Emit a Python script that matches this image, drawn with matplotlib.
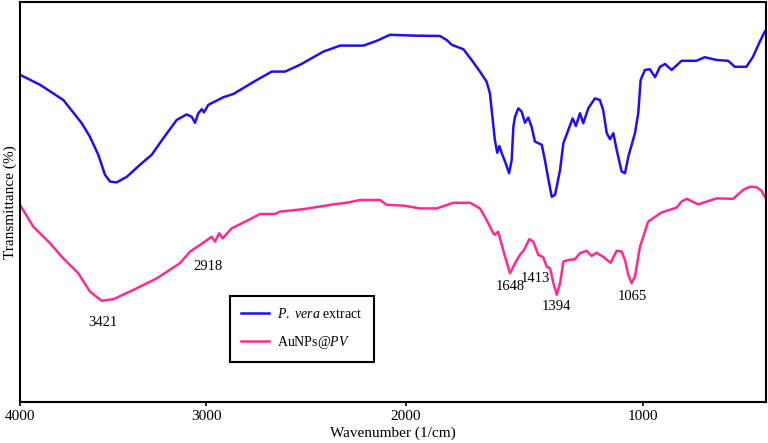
import matplotlib
matplotlib.use('Agg')
import matplotlib.pyplot as plt
import numpy as np

# FTIR spectra, wavenumber (1/cm) vs transmittance (arbitrary offset, %)
wn_extract = [4000, 3892, 3767, 3668, 3624, 3579, 3543, 3516, 3480, 3426, 3355, 3292,
              3230, 3158, 3104, 3077, 3059, 3041, 3023, 3011, 2988, 2913, 2863, 2746,
              2671, 2605, 2530, 2413, 2330, 2213, 2146, 2080, 1969, 1857, 1828, 1807,
              1758, 1723, 1688, 1660, 1646, 1634, 1625, 1615, 1606, 1596, 1582, 1565,
              1554, 1547, 1540, 1526, 1512, 1498, 1484, 1470, 1456, 1427, 1414, 1400,
              1385, 1371, 1350, 1336, 1315, 1297, 1283, 1266, 1252, 1231, 1203, 1182,
              1168, 1153, 1139, 1125, 1111, 1090, 1076, 1062, 1034, 1020, 1010, 992,
              971, 949, 928, 907, 879, 837, 774, 739, 689, 640, 612, 563, 535, 506, 485]
tr_extract = [81.8, 79.3, 75.5, 69.7, 66.3, 61.8, 56.8, 55.1, 54.9, 56.3, 59.3, 61.8,
              65.9, 70.5, 71.9, 71.3, 69.8, 72.2, 73.2, 72.4, 74.3, 76.2, 77.0, 80.5,
              82.6, 82.6, 84.3, 87.6, 89.1, 89.1, 90.3, 91.8, 91.6, 91.5, 90.5, 89.3,
              88.2, 85.5, 82.6, 80.1, 77.2, 70.5, 65.5, 62.3, 64.0, 62.2, 60.1, 57.2,
              60.5, 68.8, 71.3, 73.4, 72.6, 69.8, 71.1, 68.8, 65.1, 64.3, 60.5, 55.9,
              51.3, 51.8, 58.0, 64.7, 68.0, 70.9, 69.0, 72.2, 69.7, 73.4, 75.9, 75.5,
              73.0, 67.2, 65.7, 67.2, 63.0, 57.6, 57.2, 61.3, 67.2, 72.2, 80.5, 83.0,
              83.2, 81.2, 83.8, 84.5, 83.0, 85.3, 85.3, 86.2, 85.5, 85.3, 83.8, 83.8, 86.3, 90.1, 92.6]

wn_aunps = [4000, 3928, 3839, 3767, 3687, 3624, 3561, 3498, 3391, 3265, 3140, 3086,
            3015, 2972, 2955, 2934, 2917, 2872, 2780, 2730, 2655, 2630, 2514, 2364,
            2297, 2230, 2130, 2097, 2014, 1941, 1870, 1800, 1730, 1688, 1660, 1632,
            1625, 1611, 1582, 1561, 1540, 1519, 1502, 1480, 1463, 1442, 1421, 1406,
            1392, 1378, 1364, 1350, 1336, 1315, 1287, 1266, 1238, 1217, 1196, 1168,
            1137, 1111, 1090, 1076, 1062, 1048, 1034, 1013, 978, 921, 858, 837, 815,
            767, 689, 619, 577, 549, 520, 499, 485]
tr_aunps = [49.3, 43.8, 39.7, 35.9, 32.2, 27.6, 25.3, 25.7, 28.0, 30.9, 34.7, 37.6,
            39.8, 41.3, 40.1, 42.2, 40.9, 43.4, 45.7, 47.0, 47.0, 47.6, 48.2, 49.4,
            49.8, 50.5, 50.5, 49.3, 49.1, 48.4, 48.4, 49.8, 49.8, 48.4, 45.5, 42.2,
            41.8, 42.6, 36.3, 32.2, 34.7, 36.8, 38.0, 40.7, 40.1, 36.8, 36.2, 33.8,
            33.4, 29.7, 26.8, 29.7, 35.1, 35.5, 35.7, 37.2, 37.8, 36.5, 37.3, 36.3,
            34.8, 37.8, 37.6, 35.5, 31.8, 29.7, 31.3, 38.8, 45.1, 47.4, 48.6, 50.1, 50.8,
            49.4, 50.9, 50.8, 53.0, 53.8, 53.7, 52.8, 51.3]

peak_labels = ['3421', '2918', '1648', '1413', '1394', '1065']
peak_wn = [3554, 2990, 1561, 1452, 1364, 1047]
peak_tr = [20.0, 33.8, 28.8, 30.8, 23.8, 26.4]

# the original x axis is not linear: stretched below 2000 1/cm
scale_wn = [480, 1000, 2000, 3000, 4000]
scale_pos = [0, 123, 360, 560, 746]

def fwd(w):
    return np.interp(w, scale_wn, scale_pos)

def inv(u):
    return np.interp(u, scale_pos, scale_wn)

plt.rcParams['font.family'] = 'Liberation Serif'
plt.rcParams['mathtext.fontset'] = 'custom'
plt.rcParams['mathtext.rm'] = 'Liberation Serif'
plt.rcParams['mathtext.it'] = 'Liberation Serif:italic'

fig = plt.figure(figsize=(7.68, 4.43), dpi=100)
ax = fig.add_axes([20 / 768, 41 / 443, 746 / 768, 400 / 443])

ax.plot(wn_extract, tr_extract, color='#1f10f0', lw=1.8, label=r'$\mathit{P.\ vera}$ extract')
ax.plot(wn_aunps, tr_aunps, color='#ff2a90', lw=1.8, label=r'AuNPs@$\mathit{PV}$')

for lab, w, t in zip(peak_labels, peak_wn, peak_tr):
    ax.text(w, t, lab, ha='center', va='center', fontsize=10.5)

ax.set_xscale('function', functions=(fwd, inv))
ax.set_xlim(4000, 480)
ax.set_ylim(0, 100)
ax.set_xticks([4000, 3000, 2000, 1000])
ax.set_xticklabels(['4000', '3000', '2000', '1000'])
ax.minorticks_off()
ax.set_yticks([])
ax.tick_params(axis='x', direction='out', length=3, width=1.2, labelsize=11, pad=3)
for s in ax.spines.values():
    s.set_linewidth(1.5)

ax.set_xlabel('Wavenumber (1/cm)', fontsize=11, labelpad=2)
ax.set_ylabel('Transmittance (%)', fontsize=11, labelpad=2)

leg = ax.legend(loc='upper left', bbox_to_anchor=(0.2815, 0.265), borderaxespad=0,
                fontsize=10, fancybox=False, framealpha=1, edgecolor='black',
                handlelength=2.0, handletextpad=0.6, labelspacing=0.9, borderpad=0.8)
leg.get_frame().set_linewidth(1.5)

plt.savefig('out.png', dpi=100)
